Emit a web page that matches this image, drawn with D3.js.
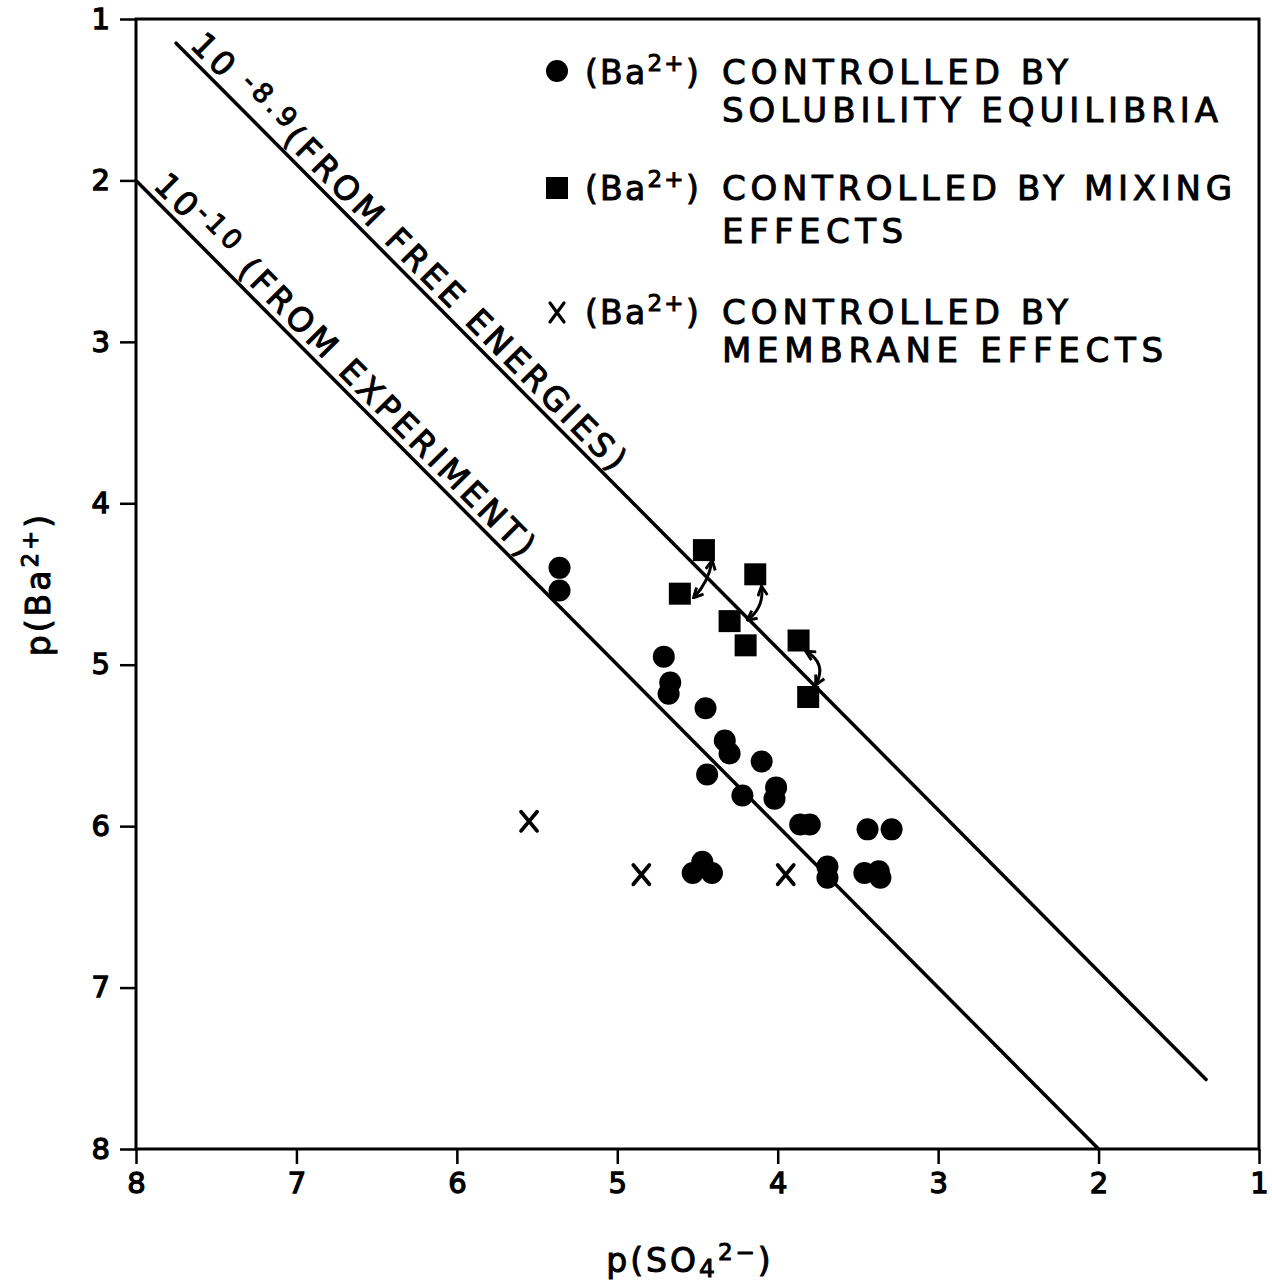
<!DOCTYPE html>
<html><head><meta charset="utf-8">
<script src="https://cdn.jsdelivr.net/npm/d3@7"></script>
<style>
html,body{margin:0;padding:0;background:#fff;}
svg{display:block;}
text{font-family:"DejaVu Sans",sans-serif;fill:#000;stroke:#000;stroke-width:1px;}
</style></head><body>
<svg id="chart" width="1272" height="1288"></svg>
<script>
// ---- data ----
const xTicks = [8,7,6,5,4,3,2,1];
const yTicks = [1,2,3,4,5,6,7,8];

// (Ba2+) controlled by solubility equilibria  (circles)
const solubilitySO4 = [5.36,5.36,4.71,4.67,4.68,4.45,4.33,4.30,4.10,4.44,4.22,4.01,4.02,3.86,3.80,3.44,3.29,3.69,3.69,3.46,3.37,3.36,4.47,4.53,4.41];
const solubilityBa  = [4.40,4.54,4.95,5.11,5.18,5.27,5.47,5.55,5.60,5.68,5.81,5.76,5.83,5.99,5.99,6.02,6.02,6.25,6.32,6.29,6.28,6.32,6.22,6.29,6.29];

// (Ba2+) controlled by mixing effects (squares)
const mixingSO4 = [4.46,4.61,4.14,4.30,4.20,3.87,3.81];
const mixingBa  = [4.29,4.56,4.44,4.73,4.88,4.85,5.20];

// (Ba2+) controlled by membrane effects (crosses)
const membraneSO4 = [5.55,4.85,3.95];
const membraneBa  = [5.97,6.30,6.30];

// curved double arrows (pSO4, pBa) start -> end
const arrowFromSO4 = [4.52,4.185,3.76];
const arrowFromBa  = [4.58,4.72,5.12];
const arrowToSO4   = [4.41,4.10,3.82];
const arrowToBa    = [4.36,4.52,4.92];

// solubility-product lines: pBa + pSO4 = pK
const linePK       = [8.9, 10];
const lineFromSO4  = [7.75, 8.0];
const lineToSO4    = [1.33, 2.0];
const lineLabelBase = ["10","10"];
const lineLabelExp  = ["-8.9","-10"];
const lineLabelRest = ["(FROM FREE ENERGIES)"," (FROM EXPERIMENT)"];

const legendFirst  = ["CONTROLLED BY","CONTROLLED BY MIXING","CONTROLLED BY"];
const legendSecond = ["SOLUBILITY EQUILIBRIA","EFFECTS","MEMBRANE EFFECTS"];

// ---- drawing ----
const svg = d3.select("#chart");
const L = 136, R = 1259, T = 19, B = 1149;
const x = d3.scaleLinear().domain([8,1]).range([L,R]);
const y = d3.scaleLinear().domain([1,8]).range([T,B]);
const FONT = "'DejaVu Sans',sans-serif";

// axes
const xAxis = d3.axisBottom(x).tickValues(xTicks).tickSize(15).tickPadding(6).tickFormat(d3.format("d"));
const yAxis = d3.axisLeft(y).tickValues(yTicks).tickSize(16).tickPadding(10).tickFormat(d3.format("d"));
const gx = svg.append("g").attr("transform",`translate(0,${B})`).call(xAxis);
const gy = svg.append("g").attr("transform",`translate(${L},0)`).call(yAxis);
[gx,gy].forEach(g=>{
  g.select(".domain").remove();
  g.selectAll(".tick line").attr("stroke","#000").attr("stroke-width",2.5);
  g.selectAll(".tick text").attr("font-size",29).attr("fill","#000")
    .style("font-family",FONT).style("stroke","#000").style("stroke-width","1.3px");
});
gx.selectAll(".tick text").attr("dy","0.8em");
svg.append("rect").attr("x",L).attr("y",T).attr("width",R-L).attr("height",B-T)
  .attr("fill","none").attr("stroke","#000").attr("stroke-width",3);

// lines
const gl = svg.append("g");
linePK.forEach((k,i)=>{
  const x1 = x(lineFromSO4[i]), y1 = y(k-lineFromSO4[i]);
  const x2 = x(lineToSO4[i]),   y2 = y(k-lineToSO4[i]);
  gl.append("line").attr("x1",x1).attr("y1",y1).attr("x2",x2).attr("y2",y2)
    .attr("stroke","#000").attr("stroke-width",3.5).attr("stroke-linecap","round");
});

// line labels
const labelStart = [7.70, 7.93];
const labelLen = [605, 528];
const labelOff = 7;
linePK.forEach((k,i)=>{
  const s = labelStart[i];
  const px = x(s), py = y(k-s);
  const dx = x(s-1)-x(s), dy = y(k-s+1)-y(k-s);
  const len = Math.hypot(dx,dy);
  const nx = dy/len, ny = -dx/len;
  const ang = Math.atan2(dy,dx)*180/Math.PI;
  const t = svg.append("text")
    .attr("transform",`translate(${px+nx*labelOff},${py+ny*labelOff}) rotate(${ang})`)
    .attr("font-size",33);
  t.append("tspan").text(lineLabelBase[i]);
  t.append("tspan").attr("dy",-10).attr("font-size",27).text((i===0?" ":"")+lineLabelExp[i]);
  t.append("tspan").attr("dy",10).text(lineLabelRest[i]);
  const nat = t.node().getComputedTextLength();
  const n = t.node().getNumberOfChars();
  t.style("letter-spacing",((labelLen[i]-nat)/n)+"px");
});

// arrows
const defs = svg.append("defs");
defs.append("marker").attr("id","ah").attr("viewBox","0 0 10 10").attr("refX",8).attr("refY",5)
  .attr("markerWidth",4).attr("markerHeight",4).attr("orient","auto-start-reverse")
  .attr("markerUnits","strokeWidth")
  .append("path").attr("d","M1,1 L9,5 L1,9").attr("fill","none").attr("stroke","#000").attr("stroke-width",2.4);
const arrowBend = [3,5,8];
arrowFromSO4.forEach((s,i)=>{
  const x1 = x(s), y1 = y(arrowFromBa[i]);
  const x2 = x(arrowToSO4[i]), y2 = y(arrowToBa[i]);
  const mx = (x1+x2)/2, my = (y1+y2)/2;
  const dx = x2-x1, dy = y2-y1, len = Math.hypot(dx,dy);
  let nx = -dy/len, ny = dx/len;
  if (nx < 0) { nx = -nx; ny = -ny; }
  const cx = mx + nx*arrowBend[i]*2, cy = my + ny*arrowBend[i]*2;
  svg.append("path").attr("d",`M${x1},${y1} Q${cx},${cy} ${x2},${y2}`)
    .attr("fill","none").attr("stroke","#000").attr("stroke-width",3)
    .attr("marker-start","url(#ah)").attr("marker-end","url(#ah)");
});

// circles
svg.append("g").selectAll("circle").data(solubilitySO4).join("circle")
  .attr("cx",(d)=>x(d)).attr("cy",(d,i)=>y(solubilityBa[i])).attr("r",11).attr("fill","#000");
// squares
const sq = 22;
svg.append("g").selectAll("rect").data(mixingSO4).join("rect")
  .attr("x",d=>x(d)-sq/2).attr("y",(d,i)=>y(mixingBa[i])-sq/2).attr("width",sq).attr("height",sq).attr("fill","#000");
// crosses
const cr = 8;
svg.append("g").selectAll("path").data(membraneSO4).join("path")
  .attr("d",(d,i)=>{const cx=x(d), cy=y(membraneBa[i]);
    return `M${cx-cr},${cy-cr*1.2}L${cx+cr},${cy+cr*1.2}M${cx+cr},${cy-cr*1.2}L${cx-cr},${cy+cr*1.2}`;})
  .attr("stroke","#000").attr("stroke-width",3.8).attr("stroke-linecap","round").attr("fill","none");

// legend
const legY = [84, 200, 324];
const legY2 = [122, 243, 362];
const firstLen = [346, 510, 346];
const secondLen = [496, 181, 441];
const lg = svg.append("g");
lg.append("circle").attr("cx",557).attr("cy",71).attr("r",11).attr("fill","#000");
lg.append("rect").attr("x",546).attr("y",177).attr("width",22).attr("height",22).attr("fill","#000");
lg.append("path").attr("d","M550,303L564,322M564,303L550,322").attr("stroke","#000").attr("stroke-width",3.2).attr("stroke-linecap","round");
legendFirst.forEach((s,i)=>{
  const t = lg.append("text").attr("x",585).attr("y",legY[i]).attr("font-size",33);
  t.append("tspan").text("(Ba");
  t.append("tspan").attr("dy",-13).attr("font-size",23).text("2+");
  t.append("tspan").attr("dy",13).text(")");
  const nat = t.node().getComputedTextLength();
  t.style("letter-spacing",((116-nat)/t.node().getNumberOfChars())+"px");
  lg.append("text").attr("x",722).attr("y",legY[i]).attr("font-size",34)
    .attr("textLength",firstLen[i]).attr("lengthAdjust","spacing").text(s);
  lg.append("text").attr("x",722).attr("y",legY2[i]).attr("font-size",34)
    .attr("textLength",secondLen[i]).attr("lengthAdjust","spacing").text(legendSecond[i]);
});

// axis titles
const yt = svg.append("text").attr("transform","translate(50,584) rotate(-90)").attr("text-anchor","middle").attr("font-size",33);
yt.append("tspan").text("p(Ba");
yt.append("tspan").attr("dy",-12).attr("font-size",23).text("2+");
yt.append("tspan").attr("dy",12).text(")");
yt.style("letter-spacing","3px");
const xt = svg.append("text").attr("x",690).attr("y",1272).attr("text-anchor","middle").attr("font-size",33);
xt.append("tspan").text("p(SO");
xt.append("tspan").attr("dy",5).attr("font-size",25).text("4");
xt.append("tspan").attr("dy",-17).attr("font-size",23).text("2−");
xt.append("tspan").attr("dy",12).text(")");
xt.style("letter-spacing","3px");
</script>
</body></html>
